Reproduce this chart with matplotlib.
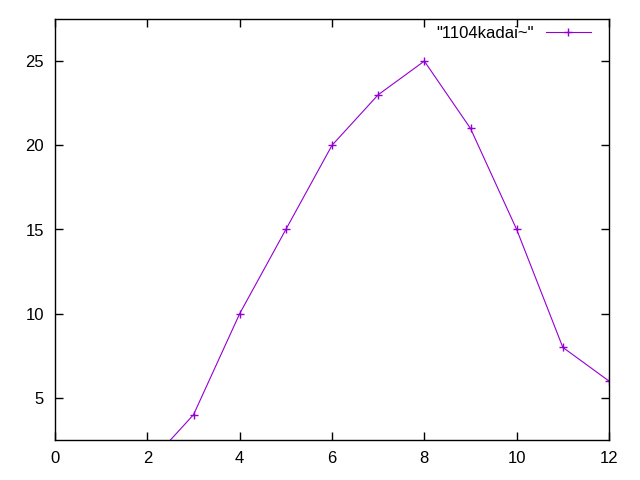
import matplotlib
matplotlib.use("Agg")
import matplotlib.pyplot as plt

x = [1, 2, 3, 4, 5, 6, 7, 8, 9, 10, 11, 12]
y = [-2, 1, 4, 10, 15, 20, 23, 25, 21, 15, 8, 6]
label = '"1104kadai~"'

plt.rcParams['font.family'] = ['Liberation Sans', 'DejaVu Sans']
fig = plt.figure(figsize=(6.4, 4.8), dpi=100)
ax = fig.add_axes([55/640, 1-440/480, (609-55)/640, (440-19)/480])
ax.plot(x, y, color='#9400D3', lw=0.8, marker='+', ms=6, mew=1.0, label=label)
ax.set_xlim(0, 12)
ax.set_ylim(2.5, 27.5)
ax.set_xticks([0, 2, 4, 6, 8, 10, 12])
ax.set_yticks([5, 10, 15, 20, 25])
ax.tick_params(direction='in', top=True, right=True, length=6, width=1, labelsize=12, pad=8)
for s in ax.spines.values():
    s.set_linewidth(1)
leg = ax.legend(loc='upper right', bbox_to_anchor=(0.967, 0.983), frameon=False, fontsize=12,
                markerfirst=False, handlelength=2.7, handletextpad=0.7,
                borderpad=0, borderaxespad=0)
fig.savefig('out.png', dpi=100)
